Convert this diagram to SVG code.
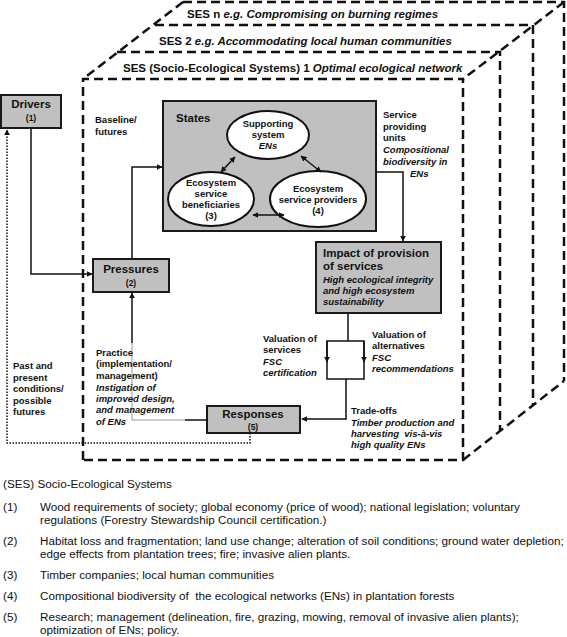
<svg xmlns="http://www.w3.org/2000/svg" width="567" height="637" viewBox="0 0 567 637">
<style>
text{font-family:"Liberation Sans",Arial,sans-serif;fill:#111}
.b{font-weight:bold}
.i{font-style:italic}
.t115{font-size:11.5px;font-weight:bold}
.t95{font-size:9.5px;font-weight:bold}
.t85{font-size:8.5px;font-weight:bold}
.leg{font-size:11.7px}
.box{fill:#c0c0c0;stroke:#1a1a1a;stroke-width:2}
.ell{fill:#fff;stroke:#111;stroke-width:2}
.ses{fill:none;stroke:#111;stroke-width:2.5;stroke-dasharray:9 5}
.c{fill:none;stroke:#111;stroke-width:1.5}
.g{fill:none;stroke:#999;stroke-width:1}
.dot{fill:none;stroke:#111;stroke-width:1.5;stroke-dasharray:1.5 1.5}
.m{text-anchor:middle}
</style>
<defs>
<marker id="ah" viewBox="0 0 10 10" refX="9" refY="5" markerWidth="6" markerHeight="6" markerUnits="userSpaceOnUse" orient="auto-start-reverse">
<path d="M0,0 L10,5 L0,10 Z" fill="#111"/>
</marker>
</defs>

<g id="ses-frames">
<path class="ses" d="M183,2 H564 V381"/>
<path class="ses" d="M155,25 H533 V405"/>
<path class="ses" d="M117,52 H500 V431"/>
<path class="ses" d="M83,460 V79 H463 V460 H83"/>
<path class="ses" d="M183,2 L83,79"/>
<path class="ses" d="M564,2 L463,79"/>
<path class="ses" d="M463,460 L564,381"/>
<text x="187" y="18" class="t115">SES n <tspan class="i">e.g. Compromising on burning regimes</tspan></text>
<text x="159" y="45" class="t115">SES 2 <tspan class="i">e.g. Accommodating local human communities</tspan></text>
<text x="123" y="72" class="t115">SES (Socio-Ecological Systems) 1 <tspan class="i">Optimal ecological network</tspan></text>
</g>

<g id="drivers">
<rect class="box" x="1" y="95" width="60" height="33"/>
<text x="31" y="108" class="t115 m">Drivers</text>
<text x="31" y="121" class="t85 m">(1)</text>
</g>

<g id="pressures">
<rect class="box" x="93" y="259" width="76" height="33"/>
<text x="131" y="273" class="t115 m">Pressures</text>
<text x="131" y="286" class="t85 m">(2)</text>
</g>

<g id="states">
<rect class="box" x="163" y="101" width="213" height="130"/>
<text x="176" y="122" class="t115">States</text>
</g>

<g id="supporting-system">
<ellipse class="ell" cx="268" cy="135" rx="41" ry="24"/>
<text x="268" y="127" class="t95 m">Supporting</text>
<text x="268" y="138" class="t95 m">system</text>
<text x="268" y="149" class="t95 m i">ENs</text>
</g>

<g id="beneficiaries">
<ellipse class="ell" cx="211" cy="199" rx="43" ry="27"/>
<text x="211" y="186" class="t95 m">Ecosystem</text>
<text x="211" y="197" class="t95 m">service</text>
<text x="211" y="208" class="t95 m">beneficiaries</text>
<text x="211" y="219" class="t95 m">(3)</text>
</g>

<g id="providers">
<ellipse class="ell" cx="318" cy="199" rx="48" ry="28"/>
<text x="318" y="192" class="t95 m">Ecosystem</text>
<text x="318" y="203" class="t95 m">service providers</text>
<text x="318" y="214" class="t95 m">(4)</text>
</g>

<g id="impact">
<rect class="box" x="316" y="242" width="125" height="71"/>
<text x="323" y="257" class="t115">Impact of provision</text>
<text x="323" y="270" class="t115">of services</text>
<text x="323" y="283" class="t95 i">High ecological integrity</text>
<text x="323" y="294" class="t95 i">and high ecosystem</text>
<text x="323" y="305" class="t95 i">sustainability</text>
</g>

<g id="responses">
<rect class="box" x="207" y="406" width="93" height="27"/>
<text x="253" y="418" class="t115 m">Responses</text>
<text x="253" y="430" class="t85 m">(5)</text>
</g>

<g id="connectors">
<path class="c" d="M31,128 V274 H92" marker-end="url(#ah)"/>
<path class="c" d="M132,258 V167 H162" marker-end="url(#ah)"/>
<path class="c" d="M376,172 H403 V241" marker-end="url(#ah)"/>
<path class="c" d="M348,313 V341"/>
<path class="c" d="M327,341 H364 V379 H327 Z"/>
<path class="c" d="M327,341 V362" marker-end="url(#ah)"/>
<path class="c" d="M364,341 V362" marker-end="url(#ah)"/>
<path class="c" d="M346,379 V419 H302" marker-end="url(#ah)"/>
<path class="c" d="M207,420 H185"/>
<path class="g" d="M185,420 H132 V343"/>
<path class="c" d="M132,343 V293" marker-end="url(#ah)"/>
<path class="dot" d="M250,433 V443 H7 V130" marker-end="url(#ah)"/>
<path class="c" d="M221,172 L235,157" marker-start="url(#ah)" marker-end="url(#ah)"/>
<path class="c" d="M301,156 L321,172" marker-start="url(#ah)" marker-end="url(#ah)"/>
<path class="c" d="M253,215 L284,215" marker-start="url(#ah)" marker-end="url(#ah)"/>
</g>

<g id="labels">
<text x="95" y="123" class="t95">Baseline/</text>
<text x="95" y="135" class="t95">futures</text>

<text x="383" y="118" class="t95">Service</text>
<text x="383" y="130" class="t95">providing</text>
<text x="383" y="141" class="t95">units</text>
<text x="383" y="153" class="t95 i">Compositional</text>
<text x="383" y="165" class="t95 i">biodiversity in</text>
<text x="410" y="177" class="t95 i">ENs</text>

<text x="13" y="369" class="t95">Past and</text>
<text x="13" y="381" class="t95">present</text>
<text x="13" y="392" class="t95">conditions/</text>
<text x="13" y="404" class="t95">possible</text>
<text x="13" y="415" class="t95">futures</text>

<text x="96" y="356" class="t95">Practice</text>
<text x="96" y="367" class="t95">(implementation/</text>
<text x="96" y="379" class="t95">management)</text>
<text x="96" y="391" class="t95 i">Instigation of</text>
<text x="96" y="402" class="t95 i">improved design,</text>
<text x="96" y="413" class="t95 i">and management</text>
<text x="96" y="425" class="t95 i">of ENs</text>

<text x="263" y="342" class="t95">Valuation of</text>
<text x="263" y="353" class="t95">services</text>
<text x="263" y="365" class="t95 i">FSC</text>
<text x="263" y="376" class="t95 i">certification</text>

<text x="372" y="338" class="t95">Valuation of</text>
<text x="372" y="349" class="t95">alternatives</text>
<text x="372" y="361" class="t95 i">FSC</text>
<text x="372" y="372" class="t95 i">recommendations</text>

<text x="351" y="414" class="t95">Trade-offs</text>
<text x="351" y="426" class="t95 i">Timber production and</text>
<text x="351" y="437" class="t95 i" xml:space="preserve">harvesting  vis-à-vis</text>
<text x="351" y="448" class="t95 i">high quality ENs</text>
</g>

<g id="legend">
<text x="3" y="488" class="leg">(SES) Socio-Ecological Systems</text>
<text x="3" y="511" class="leg">(1)</text>
<text x="40" y="511" class="leg">Wood requirements of society; global economy (price of wood); national legislation; voluntary</text>
<text x="40" y="524" class="leg">regulations (Forestry Stewardship Council certification.)</text>
<text x="3" y="545" class="leg">(2)</text>
<text x="40" y="545" class="leg">Habitat loss and fragmentation; land use change; alteration of soil conditions; ground water depletion;</text>
<text x="40" y="558" class="leg">edge effects from plantation trees; fire; invasive alien plants.</text>
<text x="3" y="579" class="leg">(3)</text>
<text x="40" y="579" class="leg">Timber companies; local human communities</text>
<text x="3" y="600" class="leg">(4)</text>
<text x="40" y="600" class="leg" xml:space="preserve">Compositional biodiversity of  the ecological networks (ENs) in plantation forests</text>
<text x="3" y="621" class="leg">(5)</text>
<text x="40" y="621" class="leg">Research; management (delineation, fire, grazing, mowing, removal of invasive alien plants);</text>
<text x="40" y="634" class="leg">optimization of ENs; policy.</text>
</g>
</svg>
